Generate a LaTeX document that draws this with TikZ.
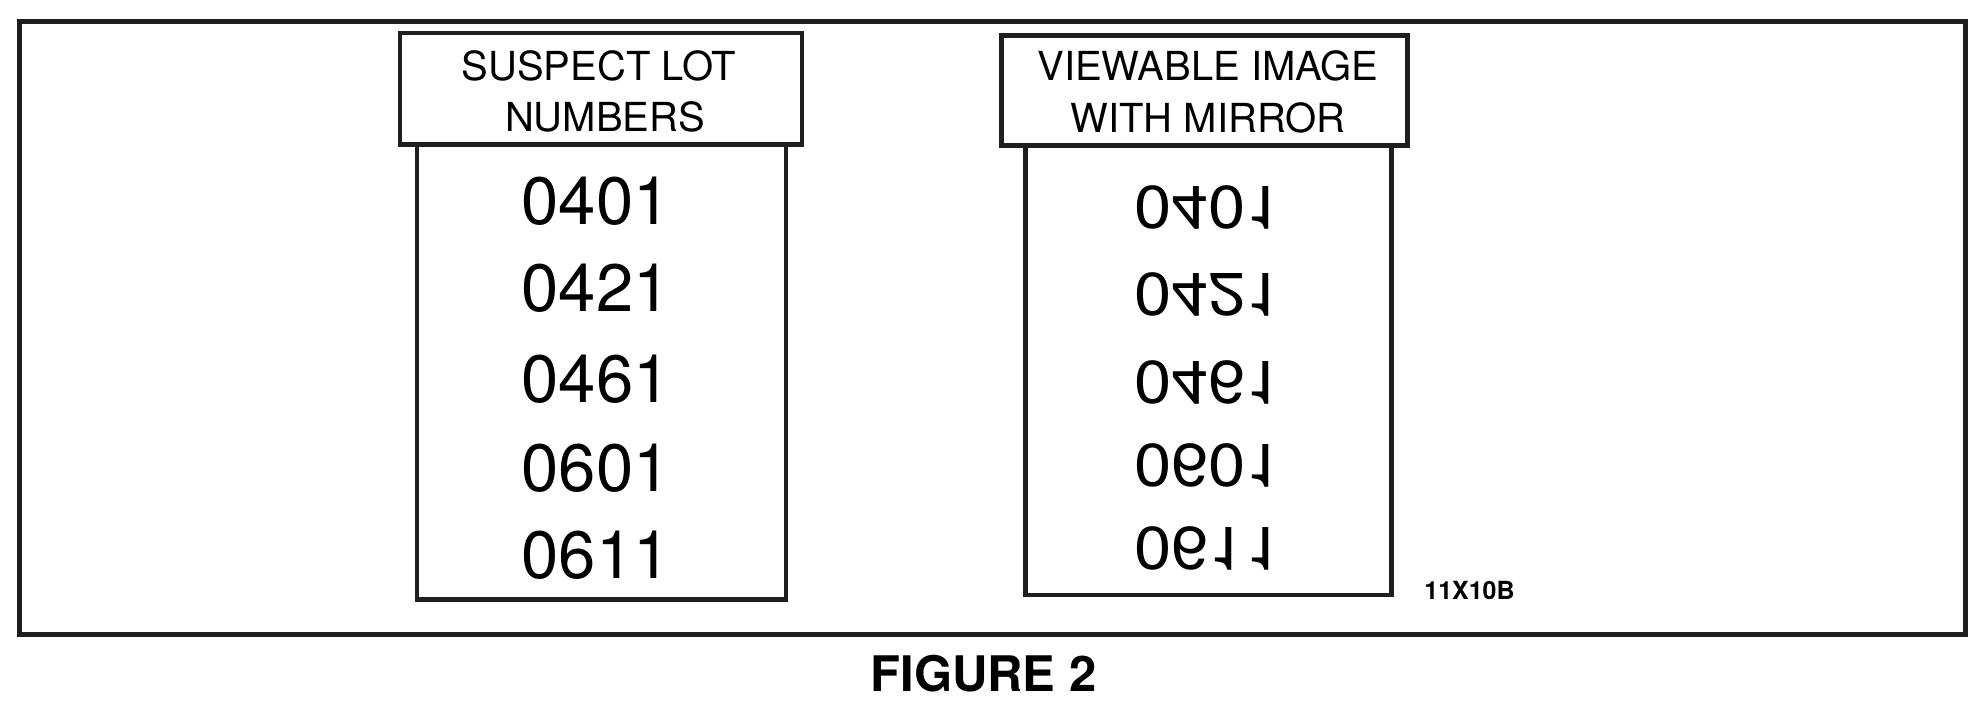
\documentclass[tikz,border=0pt]{standalone}
\usepackage{fontspec}
\setmainfont{TeX Gyre Heros}
\begin{document}
\begin{tikzpicture}[x=1pt,y=-1pt]
\definecolor{linecol}{gray}{0.12}
\tikzset{
  frameline/.style={draw=linecol,line width=5pt},
  boxline/.style={draw=linecol,line width=4.5pt,fill=white},
  headtxt/.style={anchor=base,inner sep=0pt,font=\fontsize{40}{48}\selectfont},
  numtxt/.style={anchor=center,inner sep=0pt,font=\fontsize{67}{70}\selectfont},
  mirtxt/.style={numtxt,yscale=-0.9,transform shape},
}
\useasboundingbox (0,0) rectangle (1988,714);
% outer frame
\draw[frameline] (19.5,21.5) rectangle (1965,634);
% left column
\draw[boxline] (417,144.5) rectangle (786,599.5);
\draw[boxline] (400,33) rectangle (802,144.5);
\node[headtxt] (lh1) at (599,80.5) {SUSPECT LOT};
\node[headtxt] (lh2) at (605,132) {NUMBERS};
\node[numtxt] (n1) at (596,201) {0401};
\node[numtxt] (n2) at (596,288) {0421};
\node[numtxt] (n3) at (596,379) {0461};
\node[numtxt] (n4) at (596,468) {0601};
\node[numtxt] (n5) at (596,555) {0611};
% right column
\draw[boxline] (1025.5,145.5) rectangle (1391.5,595);
\draw[boxline] (1001.5,35.5) rectangle (1407.5,145.5);
\node[headtxt] (rh1) at (1208,81) {VIEWABLE IMAGE};
\node[headtxt] (rh2) at (1208,132.5) {WITH MIRROR};
\node[mirtxt] (m1) at (1208.5,207) {0401};
\node[mirtxt] (m2) at (1208.5,294) {0421};
\node[mirtxt] (m3) at (1208.5,382) {0461};
\node[mirtxt] (m4) at (1208.5,465) {0601};
\node[mirtxt] (m5) at (1208.5,548) {0611};
% code and caption
\node[anchor=base,inner sep=0pt,font=\bfseries\fontsize{25}{28}\selectfont] (code) at (1469.5,599) {11X10B};
\node[anchor=base,inner sep=0pt,font=\bfseries\fontsize{49}{52}\selectfont] (cap) at (983.5,691) {FIGURE 2};
\end{tikzpicture}
\end{document}
